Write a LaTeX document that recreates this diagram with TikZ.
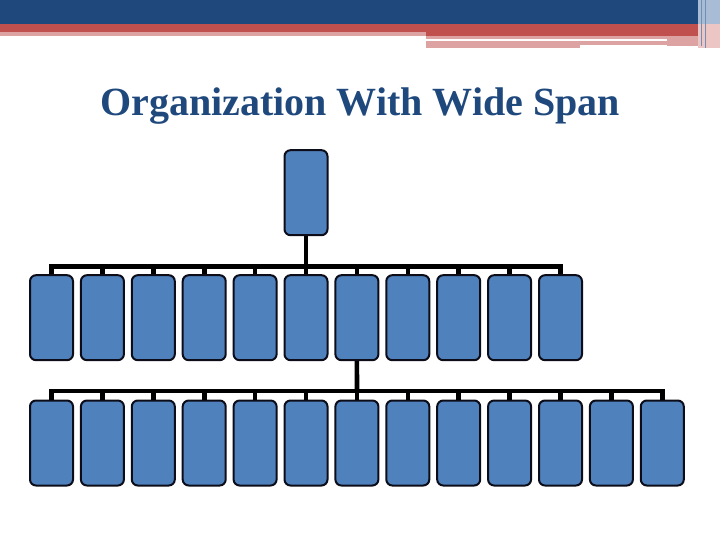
\documentclass[tikz,border=0pt]{standalone}
\usepackage{fontspec}
\setmainfont{Liberation Serif}
\usepackage{tikz}
\usetikzlibrary{positioning, calc}
\usepackage{xcolor}
\definecolor{bannerblue}{HTML}{1F497D}
\definecolor{bannerred}{HTML}{C0504D}
\definecolor{bannerpink}{HTML}{DDA3A2}
\definecolor{stripblue}{HTML}{A9BCD5}
\definecolor{strippink}{HTML}{EBC6C5}
\definecolor{titleblue}{HTML}{1F497D}
\definecolor{boxblue}{HTML}{4F81BD}
\definecolor{boxline}{HTML}{0D0D1A}

\begin{document}
\begin{tikzpicture}[
  x=1pt, y=-1pt,
  unit/.style={draw=boxline, fill=boxblue, rounded corners=6pt,
    line width=2pt, minimum width=43pt, minimum height=85pt,
    inner sep=0pt},
  conn/.style={line width=4.6pt, line join=miter}
]
  \useasboundingbox (0,0) rectangle (720,540);
  % Banner
  \fill[bannerblue] (0,0) rectangle (698,24);
  \fill[bannerred] (0,24) rectangle (698,32);
  \fill[bannerpink] (0,32) rectangle (426,36);
  \fill[bannerred] (426,32) rectangle (698,36);
  \fill[bannerpink] (426,36) rectangle (667,39);
  \fill[bannerpink] (426,41.5) rectangle (580,48.5);
  \fill[bannerpink] (580,41.5) rectangle (667,45);
  \fill[bannerpink] (667,36) rectangle (698,46);
  \fill[stripblue] (698,0) rectangle (720,24);
  \fill[strippink] (698,24) rectangle (720,48);
  \draw[stripblue!60!bannerblue, line width=0.8pt] (701,0) -- (701,46) (705,0) -- (705,48);
  % Title
  \node[anchor=base, text=titleblue, font=\fontsize{40}{48}\selectfont\bfseries]
    (title) at (360,116) {Organization With Wide Span};
  % Head
  \node[unit] (head) at (306,192.7) {};
  % First level
  \foreach \i in {0,...,10} {
    \node[unit] (r1-\i) at (51.5+50.9*\i, 317.7) {};
  }
  % Second level
  \foreach \i in {0,...,12} {
    \node[unit] (r2-\i) at (51.5+50.9*\i, 443) {};
  }
  % Lines
  \coordinate (bus1) at (306,266.5);
  \coordinate (bus2) at (357,391);
  \draw[conn] (head.south) -- (bus1);
  \draw[conn] (r1-0.north) |- (bus1) -| (r1-10.north);
  \foreach \i in {1,...,9} {
    \draw[conn] (r1-\i.north) -- (r1-\i.north |- bus1);
  }
  \draw[conn] (r1-6.south) -- (bus2);
  \draw[conn] (r2-0.north) |- (bus2) -| (r2-12.north);
  \foreach \i in {1,...,11} {
    \draw[conn] (r2-\i.north) -- (r2-\i.north |- bus2);
  }
\end{tikzpicture}
\end{document}
